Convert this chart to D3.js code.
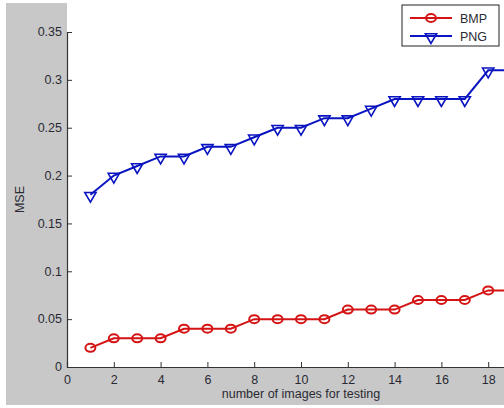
<!DOCTYPE html>
<html>
<head>
<meta charset="utf-8">
<script src="https://cdn.jsdelivr.net/npm/d3@7"></script>
<style>
  body { margin: 0; background: #fff; }
  svg text { font-family: "Liberation Sans", Arial, sans-serif; fill: #2a2a33; }
</style>
</head>
<body>
<div id="chart"></div>
<script>
// data
var imageCounts = [1, 2, 3, 4, 5, 6, 7, 8, 9, 10, 11, 12, 13, 14, 15, 16, 17, 18, 19];
var bmpMse = [0.02, 0.03, 0.03, 0.03, 0.04, 0.04, 0.04, 0.05, 0.05, 0.05, 0.05, 0.06, 0.06, 0.06, 0.07, 0.07, 0.07, 0.08, 0.08];
var pngMse = [0.18, 0.20, 0.21, 0.22, 0.22, 0.23, 0.23, 0.24, 0.25, 0.25, 0.26, 0.26, 0.27, 0.28, 0.28, 0.28, 0.28, 0.31, 0.31];
var xTicks = [0, 2, 4, 6, 8, 10, 12, 14, 16, 18];
var yTicks = [0, 0.05, 0.1, 0.15, 0.2, 0.25, 0.3, 0.35];
var seriesNames = ["BMP", "PNG"];

var W = 504, H = 408;
var margin = { top: 32, left: 67, bottom: 41 };
var plotW = 468, plotH = H - margin.top - margin.bottom;

var svg = d3.select("#chart").append("svg")
    .attr("width", W)
    .attr("height", H);

// figure background (grey) with thin white border at top/left
svg.append("rect").attr("x", 6).attr("y", 3).attr("width", W - 6).attr("height", H - 6).attr("fill", "#c8c8c8");
// white axes area
svg.append("rect").attr("x", margin.left).attr("y", 0).attr("width", W - margin.left).attr("height", margin.top + plotH).attr("fill", "#fff");

var g = svg.append("g").attr("transform", "translate(" + margin.left + "," + margin.top + ")");

var x = d3.scaleLinear().domain([0, 20]).range([0, plotW]);
var y = d3.scaleLinear().domain([0, 0.35]).range([plotH, 0]);

// axes with inward ticks, matlab style
var xAxis = g.append("g")
    .attr("transform", "translate(0," + plotH + ")")
    .call(d3.axisBottom(x).tickValues(xTicks).tickSize(-5).tickPadding(8).tickFormat(d3.format("d")));
var yAxis = g.append("g")
    .call(d3.axisLeft(y).tickValues(yTicks).tickSize(-5).tickPadding(5).tickFormat(function(d) { return d === 0 ? "0" : d3.format("")(+d.toFixed(2)); }));

[xAxis, yAxis].forEach(function(a) {
    a.select(".domain").attr("stroke", "#333").attr("stroke-width", 1.2);
    a.selectAll(".tick line").attr("stroke", "#333");
    a.selectAll(".tick text").style("font-size", "12.5px").attr("fill", "#2a2a33");
});
yAxis.selectAll(".tick text").attr("dy", "0.3em");
xAxis.selectAll(".tick text").attr("dy", "0.75em");

// axis labels
svg.append("text")
    .attr("x", margin.left + plotW / 2)
    .attr("y", 398)
    .attr("text-anchor", "middle")
    .style("font-size", "12.5px")
    .text("number of images for testing");
svg.append("text")
    .attr("transform", "translate(24," + (margin.top + plotH / 2) + ") rotate(-90)")
    .attr("text-anchor", "middle")
    .style("font-size", "12.5px")
    .text("MSE");

var colors = ["#d41414", "#0a14c0"];
var lineGen = d3.line()
    .x(function(d) { return x(d[0]); })
    .y(function(d) { return y(d[1]); });

var tri = d3.symbol().type(d3.symbolTriangle).size(55);

[bmpMse, pngMse].forEach(function(vals, si) {
    var pts = imageCounts.map(function(c, i) { return [c, vals[i]]; });
    g.append("path")
        .datum(pts)
        .attr("fill", "none")
        .attr("stroke", colors[si])
        .attr("stroke-width", 2)
        .attr("d", lineGen);
    if (si === 0) {
        g.selectAll(".mk0").data(pts).enter().append("ellipse")
            .attr("cx", function(d) { return x(d[0]); })
            .attr("cy", function(d) { return y(d[1]); })
            .attr("rx", 5).attr("ry", 4)
            .attr("fill", "none")
            .attr("stroke", colors[0])
            .attr("stroke-width", 2);
    } else {
        g.selectAll(".mk1").data(pts).enter().append("path")
            .attr("d", tri)
            .attr("transform", function(d) { return "translate(" + x(d[0]) + "," + (y(d[1]) + 1) + ") rotate(180)"; })
            .attr("fill", "none")
            .attr("stroke", colors[1])
            .attr("stroke-width", 1.6);
    }
});

// legend
var lg = svg.append("g").attr("transform", "translate(402,5)");
lg.append("rect").attr("width", 97).attr("height", 41).attr("fill", "#fff").attr("stroke", "#222").attr("stroke-width", 1);
seriesNames.forEach(function(name, i) {
    var ly = 13 + i * 18;
    lg.append("line").attr("x1", 8).attr("x2", 50).attr("y1", ly).attr("y2", ly)
        .attr("stroke", colors[i]).attr("stroke-width", 2);
    if (i === 0) {
        lg.append("ellipse").attr("cx", 29).attr("cy", ly).attr("rx", 5).attr("ry", 4)
            .attr("fill", "none").attr("stroke", colors[0]).attr("stroke-width", 2);
    } else {
        lg.append("path").attr("d", tri)
            .attr("transform", "translate(29," + (ly + 1) + ") rotate(180)")
            .attr("fill", "none").attr("stroke", colors[1]).attr("stroke-width", 1.6);
    }
    lg.append("text").attr("x", 58).attr("y", ly + 4.5).style("font-size", "12.5px").text(name);
});
</script>
</body>
</html>
